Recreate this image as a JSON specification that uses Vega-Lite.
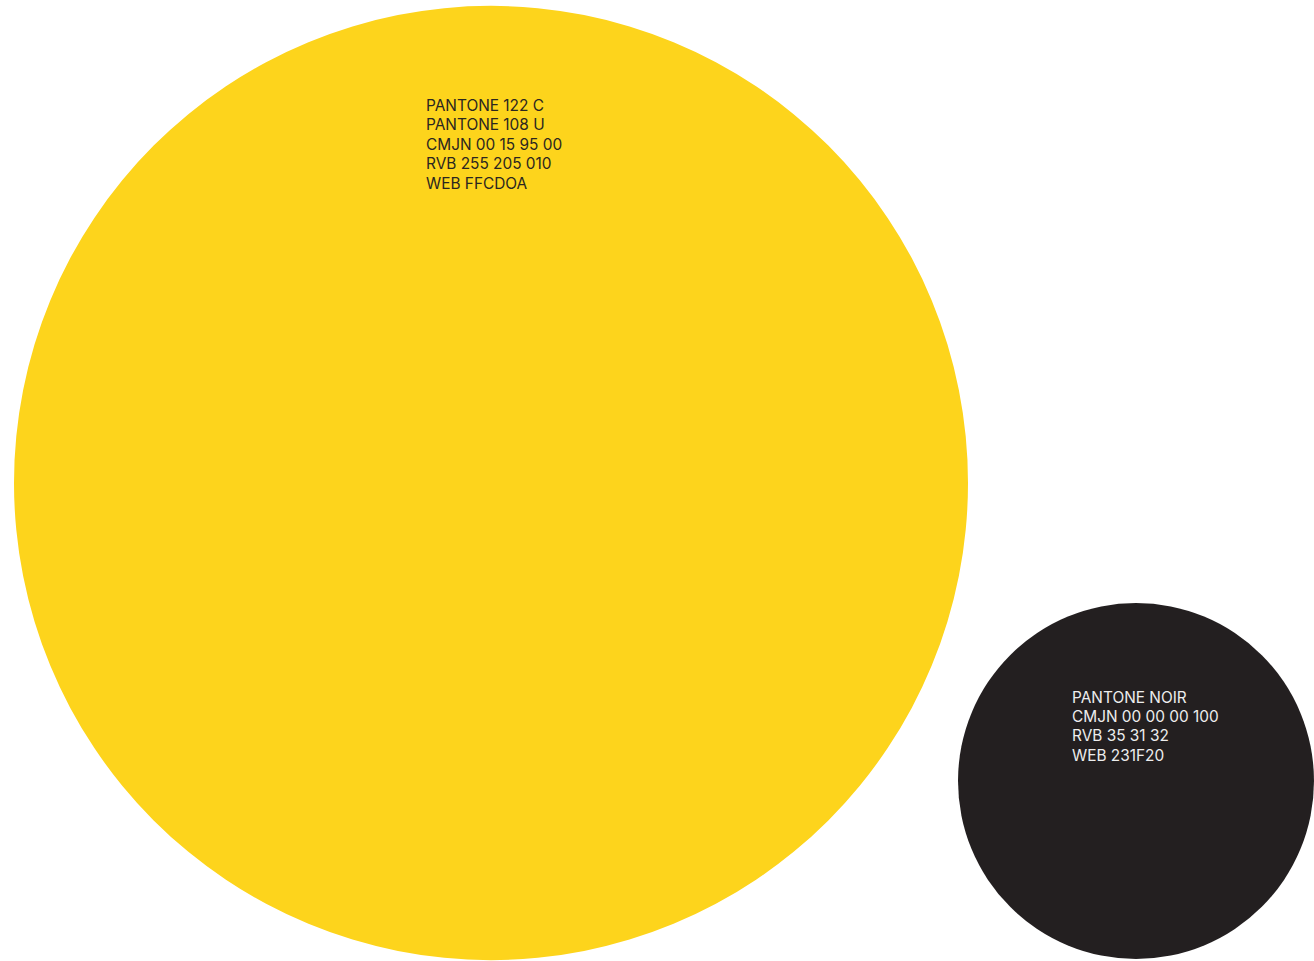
{
  "$schema": "https://vega.github.io/schema/vega-lite/v6.json",
  "autosize": {"type": "fit", "contains": "padding"},
  "width": 1314,
  "height": 961,
  "padding": 0,
  "background": "#ffffff",
  "config": {"view": {"stroke": null}},
  "datasets": {
    "circles": [
      {"name": "Jaune", "cx": 491, "cy": 483, "diameter": 954},
      {"name": "Noir", "cx": 1136, "cy": 781, "diameter": 356}
    ],
    "labels": [
      {"name": "Jaune", "tx": 426, "ty": 111, "lines": ["PANTONE 122 C", "PANTONE 108 U", "CMJN 00 15 95 00", "RVB 255 205 010", "WEB FFCDOA"]},
      {"name": "Noir", "tx": 1072, "ty": 702.5, "lines": ["PANTONE NOIR", "CMJN 00 00 00 100", "RVB 35 31 32", "WEB 231F20"]}
    ]
  },
  "layer": [
    {
      "data": {"name": "circles"},
      "mark": {"type": "point", "shape": "circle", "filled": true, "opacity": 1, "strokeWidth": 0},
      "encoding": {
        "x": {"field": "cx", "type": "quantitative", "scale": {"domain": [0, 1314], "nice": false, "zero": false}, "axis": null},
        "y": {"field": "cy", "type": "quantitative", "scale": {"domain": [961, 0], "nice": false, "zero": false}, "axis": null},
        "size": {"field": "diameter", "type": "quantitative", "scale": {"type": "pow", "exponent": 2, "domain": [0, 954], "range": [0, 910116], "zero": true}, "legend": null},
        "color": {"field": "name", "type": "nominal", "scale": {"domain": ["Jaune", "Noir"], "range": ["#FDD41C", "#231F20"]}, "legend": null}
      }
    },
    {
      "data": {"name": "labels"},
      "mark": {"type": "text", "align": "left", "baseline": "alphabetic", "font": "Inter", "fontSize": 15.4, "lineHeight": 19.4},
      "encoding": {
        "x": {"field": "tx", "type": "quantitative"},
        "y": {"field": "ty", "type": "quantitative"},
        "text": {"field": "lines"},
        "color": {"field": "name", "type": "nominal", "scale": {"domain": ["Jaune", "Noir"], "range": ["#2B2620", "#EDEDED"]}, "legend": null}
      }
    }
  ],
  "resolve": {"scale": {"color": "independent"}}
}
